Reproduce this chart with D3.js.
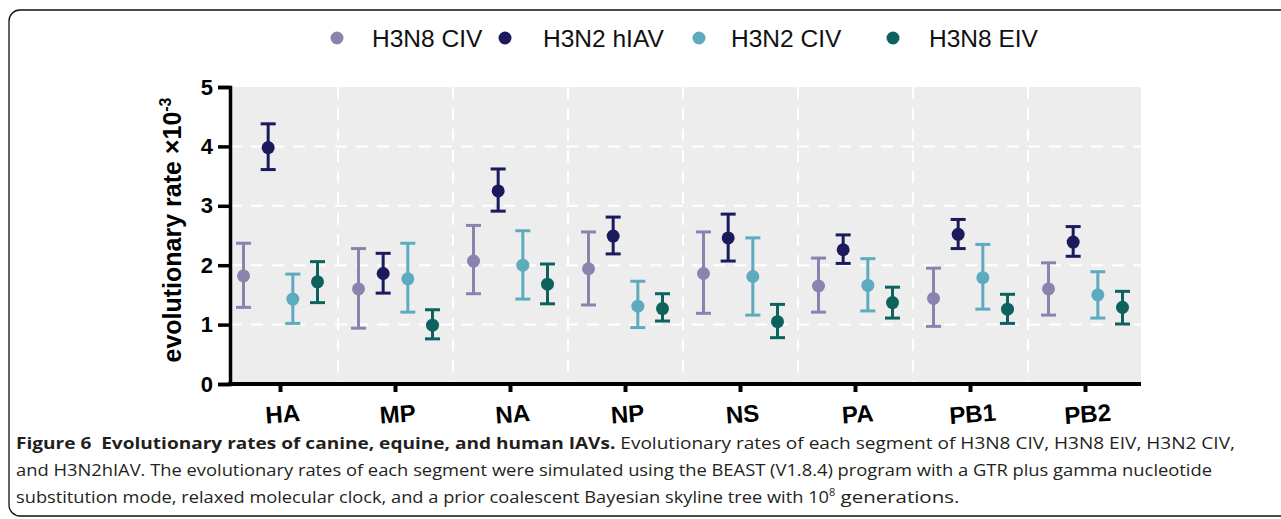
<!DOCTYPE html>
<html lang="en">
<head>
<meta charset="UTF-8">
<title>Figure 6 – Evolutionary rates</title>
<style>
  body { margin: 0; background: #fff; }
  svg { display: block; }
  .tick text { font-family: 'Liberation Sans', Arial, sans-serif; font-weight: bold; }
  .caption { white-space: pre; }
</style>
</head>
<body>
<svg id="chart" width="1281" height="519"></svg>
<script src="https://d3js.org/d3.v7.min.js"></script>
<script>
// segments on the x axis
const segments = ["HA", "MP", "NA", "NP", "NS", "PA", "PB1", "PB2"];
const seriesNames = ["H3N8 CIV", "H3N2 hIAV", "H3N2 CIV", "H3N8 EIV"];
const seriesColors = ["#8a83ad", "#1a1a5c", "#5eaabf", "#0e625e"];
const yTicks = [0, 1, 2, 3, 4, 5];

// rate x10^-3 : mean, lower, upper (one value per segment)
const civH3N8Mean  = [1.82, 1.60, 2.07, 1.94, 1.86, 1.65, 1.44, 1.60];
const civH3N8Low   = [1.29, 0.94, 1.52, 1.33, 1.19, 1.21, 0.97, 1.16];
const civH3N8High  = [2.37, 2.28, 2.67, 2.56, 2.56, 2.12, 1.95, 2.04];

const hiavMean     = [3.98, 1.86, 3.25, 2.49, 2.46, 2.26, 2.52, 2.39];
const hiavLow      = [3.61, 1.53, 2.91, 2.19, 2.07, 2.03, 2.28, 2.15];
const hiavHigh     = [4.38, 2.20, 3.62, 2.81, 2.86, 2.51, 2.77, 2.65];

const civH3N2Mean  = [1.43, 1.77, 2.00, 1.31, 1.81, 1.66, 1.79, 1.50];
const civH3N2Low   = [1.02, 1.21, 1.43, 0.95, 1.16, 1.23, 1.26, 1.11];
const civH3N2High  = [1.85, 2.37, 2.58, 1.73, 2.46, 2.11, 2.35, 1.89];

const eivMean      = [1.72, 0.99, 1.68, 1.27, 1.05, 1.37, 1.26, 1.29];
const eivLow       = [1.37, 0.76, 1.35, 1.06, 0.78, 1.11, 1.02, 1.01];
const eivHigh      = [2.06, 1.25, 2.02, 1.52, 1.34, 1.63, 1.51, 1.56];

const means = [civH3N8Mean, hiavMean, civH3N2Mean, eivMean];
const lows  = [civH3N8Low, hiavLow, civH3N2Low, eivLow];
const highs = [civH3N8High, hiavHigh, civH3N2High, eivHigh];

const captionBold = "Figure 6  Evolutionary rates of canine, equine, and human IAVs.";
const captionLines = [
  " Evolutionary rates of each segment of H3N8 CIV, H3N8 EIV, H3N2 CIV,",
  "and H3N2hIAV. The evolutionary rates of each segment were simulated using the BEAST (V1.8.4) program with a GTR plus gamma nucleotide",
  "substitution mode, relaxed molecular clock, and a prior coalescent Bayesian skyline tree with 10"
];

const svg = d3.select("#chart");

// figure frame
svg.append("rect")
   .attr("x", 9).attr("y", 10)
   .attr("width", 1290).attr("height", 506)
   .attr("rx", 11)
   .attr("fill", "none")
   .attr("stroke", "#111")
   .attr("stroke-width", 1.3);

// flatten data
const points = [];
seriesNames.forEach((s, si) => {
  segments.forEach((seg, i) => {
    points.push({ series: s, si, seg, mean: means[si][i], lo: lows[si][i], hi: highs[si][i] });
  });
});

const plot = { left: 230, right: 1141, top: 87, bottom: 384 };

const x = d3.scaleBand().domain(segments).range([223, 1143]);
const offset = d3.scalePoint().domain(seriesNames).range([-37, 37]);
const y = d3.scaleLinear().domain([0, 5]).range([plot.bottom, plot.top]);
const color = d3.scaleOrdinal().domain(seriesNames).range(seriesColors);

// panel background
svg.append("rect")
   .attr("x", plot.left).attr("y", plot.top)
   .attr("width", plot.right - plot.left).attr("height", plot.bottom - plot.top)
   .attr("fill", "#ededed");

// grid lines
const grid = svg.append("g").attr("stroke", "#fff").attr("stroke-width", 2)
                .attr("stroke-dasharray", "12,9");
grid.selectAll(".hg").data(yTicks.filter(t => t > 0 && t < 5)).enter()
    .append("line")
    .attr("x1", plot.left).attr("x2", plot.right)
    .attr("y1", d => y(d)).attr("y2", d => y(d));
grid.selectAll(".vg").data(segments.slice(1)).enter()
    .append("line")
    .attr("x1", d => x(d)).attr("x2", d => x(d))
    .attr("y1", plot.top).attr("y2", plot.bottom);

// error bars
const marks = svg.append("g");
const g = marks.selectAll(".pt").data(points).enter().append("g")
   .attr("transform", d => `translate(${x(d.seg) + x.bandwidth() / 2 + offset(d.series)},0)`)
   .attr("stroke", d => color(d.series))
   .attr("fill", d => color(d.series))
   .attr("stroke-width", 3);
g.append("line").attr("x1", 0).attr("x2", 0)
   .attr("y1", d => y(d.lo)).attr("y2", d => y(d.hi));
g.append("line").attr("x1", -7.5).attr("x2", 7.5)
   .attr("y1", d => y(d.hi)).attr("y2", d => y(d.hi));
g.append("line").attr("x1", -7.5).attr("x2", 7.5)
   .attr("y1", d => y(d.lo)).attr("y2", d => y(d.lo));
g.append("circle").attr("cx", 0).attr("cy", d => y(d.mean))
   .attr("r", 6.5).attr("stroke", "none");

// axes
const yAxis = svg.append("g")
   .attr("transform", `translate(${plot.left},0)`)
   .call(d3.axisLeft(y).tickValues(yTicks).tickFormat(d3.format("d")).tickSizeOuter(0).tickSize(12).tickPadding(5));
yAxis.select(".domain").attr("stroke-width", 3.5).attr("stroke", "#000");
yAxis.selectAll(".tick line").attr("stroke-width", 3.5).attr("stroke", "#000");
yAxis.selectAll(".tick text").attr("font-size", 22).attr("fill", "#000");

const xAxis = svg.append("g")
   .attr("transform", `translate(0,${plot.bottom})`)
   .call(d3.axisBottom(x).tickSizeOuter(0).tickSize(8).tickPadding(10));
xAxis.select(".domain").attr("d", `M${plot.left - 2},0H${plot.right}`)
     .attr("stroke-width", 4).attr("stroke", "#000");
xAxis.selectAll(".tick line").attr("stroke-width", 4).attr("stroke", "#000");
xAxis.selectAll(".tick text")
     .attr("font-size", 24).attr("fill", "#000")
     .attr("dy", "0.85em")
     .attr("transform", "rotate(-4)");

// y title
svg.append("text")
   .attr("transform", "translate(181,230) rotate(-90)")
   .attr("text-anchor", "middle")
   .attr("font-family", "'Liberation Sans', Arial, sans-serif")
   .attr("font-weight", "bold")
   .attr("font-size", 25)
   .attr("fill", "#000")
   .call(t => {
     t.append("tspan").text("evolutionary rate \u00d710");
     t.append("tspan").attr("dy", -10).attr("font-size", 16).text("-3");
   });

// legend
const legendDot = [337, 505, 699, 893];
const legendText = [372, 543, 731, 929];
const legend = svg.append("g");
seriesNames.forEach((s, i) => {
  legend.append("circle").attr("cx", legendDot[i]).attr("cy", 38).attr("r", 6.5).attr("fill", color(s));
  legend.append("text")
        .attr("x", legendText[i]).attr("y", 47)
        .attr("font-family", "'Liberation Sans', Arial, sans-serif")
        .attr("font-size", 24.5)
        .attr("fill", "#111")
        .text(s);
});

// caption
const capFont = "'Open Sans', 'Noto Sans', sans-serif";
const capY = [449, 476, 503];
const capW = [1219, 1196, 941];
const cap1 = svg.append("text").attr("class", "caption")
   .attr("x", 16).attr("y", capY[0])
   .attr("font-family", capFont).attr("font-size", 16.5).attr("fill", "#231f20")
   .attr("textLength", capW[0]).attr("lengthAdjust", "spacingAndGlyphs");
cap1.append("tspan").attr("font-weight", "bold").text(captionBold);
cap1.append("tspan").text(captionLines[0]);
svg.append("text").attr("class", "caption")
   .attr("x", 16).attr("y", capY[1])
   .attr("font-family", capFont).attr("font-size", 16.5).attr("fill", "#231f20")
   .attr("textLength", capW[1]).attr("lengthAdjust", "spacingAndGlyphs")
   .text(captionLines[1]);
const cap3 = svg.append("text").attr("class", "caption")
   .attr("x", 16).attr("y", capY[2])
   .attr("font-family", capFont).attr("font-size", 16.5).attr("fill", "#231f20");
cap3.append("tspan")
   .attr("textLength", 813).attr("lengthAdjust", "spacingAndGlyphs")
   .text(captionLines[2]);
cap3.append("tspan").attr("dy", -7).attr("font-size", 11).text("8");
cap3.append("tspan").attr("dy", 7)
   .attr("textLength", 124).attr("lengthAdjust", "spacingAndGlyphs")
   .text(" generations.");
</script>
</body>
</html>
